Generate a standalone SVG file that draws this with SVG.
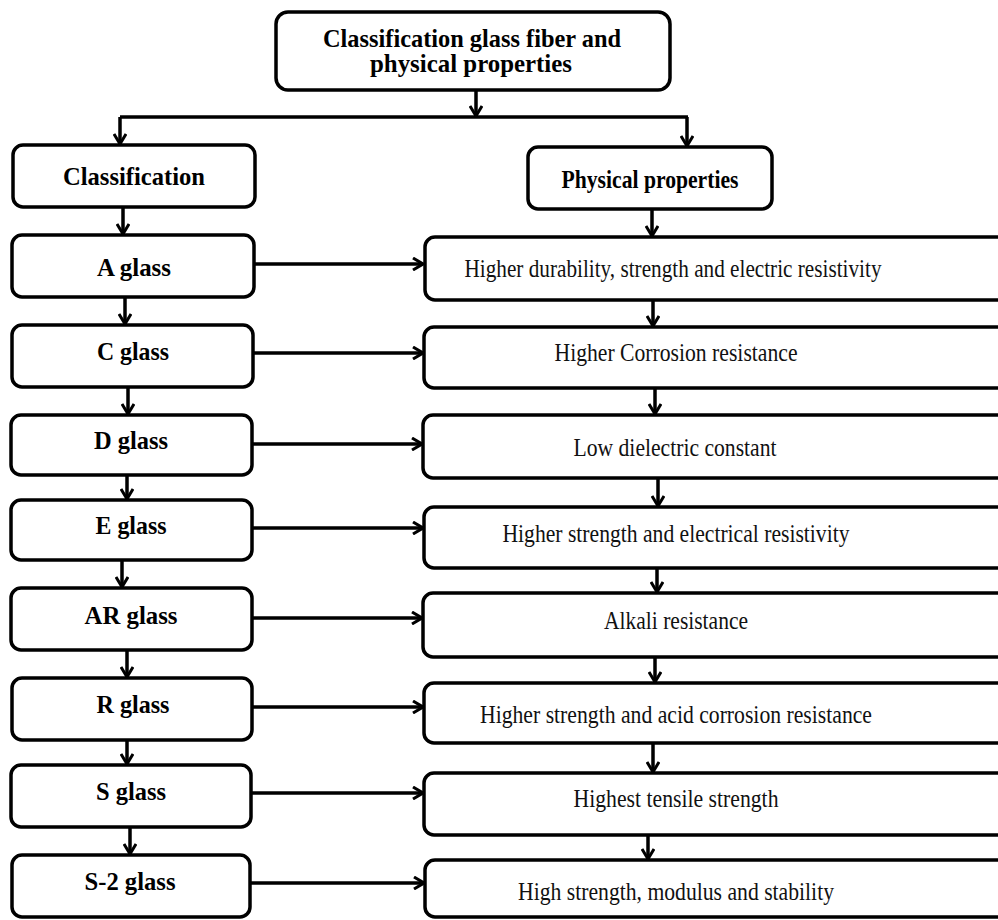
<svg xmlns="http://www.w3.org/2000/svg" width="998" height="920" viewBox="0 0 998 920">
<defs>
<marker id="arr" viewBox="0 0 12 14" refX="11" refY="7" markerWidth="12" markerHeight="14" markerUnits="userSpaceOnUse" orient="auto">
<path d="M1,1 L11,7 L1,13" fill="none" stroke="#000" stroke-width="3" stroke-linejoin="miter"/>
</marker>
<style>
.box{fill:#fff;stroke:#000;stroke-width:3.5}
.b{font-family:"Liberation Serif","Times New Roman",serif;font-weight:bold;font-size:25px;fill:#000;text-anchor:middle}
.r{font-family:"Liberation Serif","Times New Roman",serif;font-size:25px;fill:#111;text-anchor:middle}
.c{fill:none;stroke:#000;stroke-width:3.5}
.ca{fill:none;stroke:#000;stroke-width:3.5;marker-end:url(#arr)}
</style>
</defs>
<rect width="998" height="920" fill="#fff"/>

<g id="connectors">
<path class="ca" d="M476,90 V116"/>
<path class="c" d="M120,117 H688"/>
<path class="ca" d="M120,117 V144"/>
<path class="ca" d="M687,117 V146"/>
<path class="ca" d="M123,207 V234"/>
<path class="ca" d="M125,297 V324"/>
<path class="ca" d="M128,387 V414"/>
<path class="ca" d="M127,475 V499"/>
<path class="ca" d="M122,560 V587"/>
<path class="ca" d="M127,650 V677"/>
<path class="ca" d="M127,740 V764"/>
<path class="ca" d="M130,827 V854"/>
<path class="ca" d="M652,209 V236"/>
<path class="ca" d="M653,300 V326"/>
<path class="ca" d="M655,388 V414"/>
<path class="ca" d="M658,478 V506"/>
<path class="ca" d="M657,568 V592"/>
<path class="ca" d="M655,657 V682"/>
<path class="ca" d="M653,743 V772"/>
<path class="ca" d="M648,835 V859"/>
<path class="ca" d="M253,264 H423"/>
<path class="ca" d="M253,353 H423"/>
<path class="ca" d="M252,444 H422"/>
<path class="ca" d="M252,528 H423"/>
<path class="ca" d="M252,618 H422"/>
<path class="ca" d="M252,707 H423"/>
<path class="ca" d="M251,793 H423"/>
<path class="ca" d="M250,883 H424"/>
</g>

<g id="top">
<rect class="box" x="276" y="12" width="394" height="78" rx="12"/>
<text class="b" x="472" y="47" textLength="298" lengthAdjust="spacingAndGlyphs">Classification glass fiber and</text>
<text class="b" x="471" y="72" textLength="202" lengthAdjust="spacingAndGlyphs">physical properties</text>
</g>
<g id="classification">
<rect class="box" x="13" y="145" width="242" height="62" rx="10"/>
<text class="b" x="134" y="185" textLength="142" lengthAdjust="spacingAndGlyphs">Classification</text>
</g>
<g id="physical">
<rect class="box" x="528" y="147" width="244" height="62" rx="10"/>
<text class="b" x="650" y="188" textLength="177" lengthAdjust="spacingAndGlyphs">Physical properties</text>
</g>

<g id="a-glass">
<rect class="box" x="12" y="235" width="242" height="62" rx="10"/>
<text class="b" x="134" y="276" textLength="74" lengthAdjust="spacingAndGlyphs">A glass</text>
</g>
<g id="c-glass">
<rect class="box" x="12" y="325" width="241" height="62" rx="10"/>
<text class="b" x="133" y="360" textLength="72" lengthAdjust="spacingAndGlyphs">C glass</text>
</g>
<g id="d-glass">
<rect class="box" x="11" y="415" width="241" height="60" rx="10"/>
<text class="b" x="131" y="449" textLength="74" lengthAdjust="spacingAndGlyphs">D glass</text>
</g>
<g id="e-glass">
<rect class="box" x="11" y="500" width="241" height="60" rx="10"/>
<text class="b" x="131" y="534" textLength="71" lengthAdjust="spacingAndGlyphs">E glass</text>
</g>
<g id="ar-glass">
<rect class="box" x="11" y="588" width="241" height="62" rx="10"/>
<text class="b" x="131" y="624" textLength="93" lengthAdjust="spacingAndGlyphs">AR glass</text>
</g>
<g id="r-glass">
<rect class="box" x="12" y="678" width="240" height="62" rx="10"/>
<text class="b" x="133" y="713" textLength="73" lengthAdjust="spacingAndGlyphs">R glass</text>
</g>
<g id="s-glass">
<rect class="box" x="11" y="765" width="240" height="62" rx="10"/>
<text class="b" x="131" y="800" textLength="70" lengthAdjust="spacingAndGlyphs">S glass</text>
</g>
<g id="s2-glass">
<rect class="box" x="12" y="855" width="238" height="62" rx="10"/>
<text class="b" x="130" y="890" textLength="91" lengthAdjust="spacingAndGlyphs">S-2 glass</text>
</g>

<g id="a-prop">
<rect class="box" x="425" y="237" width="600" height="63" rx="10"/>
<text class="r" x="673" y="277" textLength="417" lengthAdjust="spacingAndGlyphs">Higher durability, strength and electric resistivity</text>
</g>
<g id="c-prop">
<rect class="box" x="424" y="327" width="600" height="61" rx="10"/>
<text class="r" x="676" y="361" textLength="243" lengthAdjust="spacingAndGlyphs">Higher Corrosion resistance</text>
</g>
<g id="d-prop">
<rect class="box" x="423" y="415" width="600" height="63" rx="10"/>
<text class="r" x="675" y="456" textLength="203" lengthAdjust="spacingAndGlyphs">Low dielectric constant</text>
</g>
<g id="e-prop">
<rect class="box" x="424" y="507" width="600" height="61" rx="10"/>
<text class="r" x="676" y="542" textLength="347" lengthAdjust="spacingAndGlyphs">Higher strength and electrical resistivity</text>
</g>
<g id="ar-prop">
<rect class="box" x="423" y="593" width="600" height="64" rx="10"/>
<text class="r" x="676" y="629" textLength="144" lengthAdjust="spacingAndGlyphs">Alkali resistance</text>
</g>
<g id="r-prop">
<rect class="box" x="424" y="683" width="600" height="60" rx="10"/>
<text class="r" x="676" y="723" textLength="392" lengthAdjust="spacingAndGlyphs">Higher strength and acid corrosion resistance</text>
</g>
<g id="s-prop">
<rect class="box" x="424" y="773" width="600" height="62" rx="10"/>
<text class="r" x="676" y="807" textLength="205" lengthAdjust="spacingAndGlyphs">Highest tensile strength</text>
</g>
<g id="s2-prop">
<rect class="box" x="425" y="860" width="600" height="57" rx="10"/>
<text class="r" x="676" y="900" textLength="316" lengthAdjust="spacingAndGlyphs">High strength, modulus and stability</text>
</g>
</svg>
